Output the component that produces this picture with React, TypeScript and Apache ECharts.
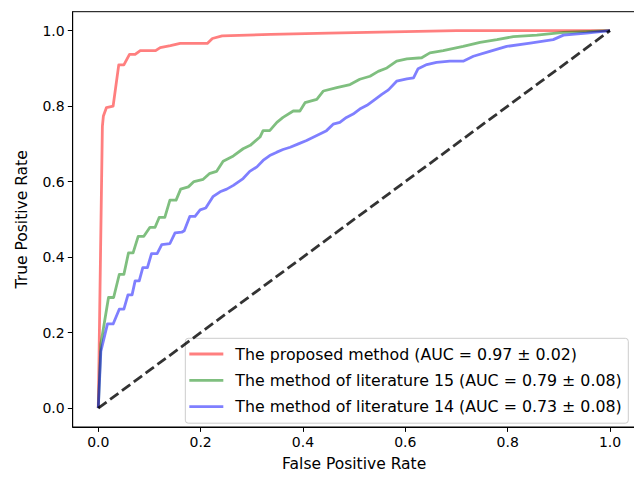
import React, { useEffect, useRef } from "react";
import * as echarts from "echarts";

const tickValues = [0, 0.2, 0.4, 0.6, 0.8, 1.0];

const seriesNames = [
  "The proposed method (AUC = 0.97 ± 0.02)",
  "The method of literature 15 (AUC = 0.79 ± 0.08)",
  "The method of literature 14 (AUC = 0.73 ± 0.08)",
];

const proposedPoints: number[][] = [
  [0, 0], [0.008, 0.746], [0.01, 0.774], [0.016, 0.796], [0.029, 0.8], [0.04, 0.909],
  [0.05, 0.909], [0.061, 0.937], [0.072, 0.937], [0.082, 0.947], [0.112, 0.947],
  [0.121, 0.955], [0.141, 0.96], [0.16, 0.966], [0.213, 0.966], [0.223, 0.979],
  [0.242, 0.986], [0.337, 0.99], [0.45, 0.993], [0.6, 0.997], [0.7, 1], [1, 1],
];

const lit15Points: number[][] = [
  [0, 0], [0.005, 0.17], [0.02, 0.293], [0.03, 0.293], [0.041, 0.354], [0.05, 0.354],
  [0.059, 0.411], [0.068, 0.411], [0.078, 0.455], [0.089, 0.455], [0.101, 0.479],
  [0.111, 0.479], [0.119, 0.505], [0.13, 0.505], [0.14, 0.551], [0.152, 0.551],
  [0.161, 0.58], [0.176, 0.586], [0.187, 0.6], [0.205, 0.606], [0.217, 0.621],
  [0.231, 0.627], [0.244, 0.654], [0.264, 0.668], [0.283, 0.687], [0.297, 0.696],
  [0.316, 0.718], [0.322, 0.735], [0.335, 0.735], [0.349, 0.757], [0.361, 0.77],
  [0.381, 0.787], [0.394, 0.787], [0.404, 0.809], [0.427, 0.818], [0.44, 0.84],
  [0.466, 0.849], [0.492, 0.857], [0.511, 0.871], [0.531, 0.879], [0.547, 0.892],
  [0.564, 0.901], [0.583, 0.919], [0.603, 0.925], [0.632, 0.928], [0.648, 0.941],
  [0.674, 0.947], [0.713, 0.958], [0.746, 0.969], [0.779, 0.976], [0.811, 0.984],
  [0.857, 0.988], [0.909, 0.995], [1, 1],
];

const lit14Points: number[][] = [
  [0, 0], [0.005, 0.15], [0.018, 0.223], [0.029, 0.223], [0.041, 0.262], [0.05, 0.262],
  [0.058, 0.3], [0.066, 0.3], [0.072, 0.337], [0.08, 0.337], [0.087, 0.372],
  [0.096, 0.372], [0.104, 0.409], [0.115, 0.409], [0.124, 0.433], [0.14, 0.436],
  [0.15, 0.464], [0.163, 0.466], [0.168, 0.47], [0.179, 0.508], [0.189, 0.508],
  [0.199, 0.525], [0.21, 0.53], [0.224, 0.56], [0.238, 0.573], [0.251, 0.58],
  [0.264, 0.59], [0.283, 0.608], [0.296, 0.627], [0.31, 0.639], [0.322, 0.656],
  [0.335, 0.669], [0.349, 0.678], [0.361, 0.685], [0.375, 0.691], [0.391, 0.7],
  [0.407, 0.709], [0.427, 0.722], [0.446, 0.735], [0.459, 0.752], [0.472, 0.757],
  [0.485, 0.77], [0.498, 0.779], [0.511, 0.792], [0.525, 0.802], [0.541, 0.818],
  [0.554, 0.831], [0.567, 0.843], [0.583, 0.866], [0.603, 0.872], [0.616, 0.875],
  [0.625, 0.899], [0.642, 0.91], [0.661, 0.916], [0.687, 0.919], [0.713, 0.919],
  [0.733, 0.932], [0.765, 0.945], [0.798, 0.958], [0.844, 0.967], [0.889, 0.976],
  [0.909, 0.988], [0.954, 0.993], [1, 1],
];

const chancePoints: number[][] = [[0, 0], [1, 1]];

const FONT = "DejaVu Sans";

export default function App() {
  const ref = useRef<HTMLDivElement>(null);
  useEffect(() => {
    if (!ref.current) return;
    const chart = echarts.init(ref.current, undefined, { renderer: "svg" });
    const colors = ["rgba(255,0,0,0.5)", "rgba(0,128,0,0.5)", "rgba(0,0,255,0.5)"];
    const datasets = [proposedPoints, lit15Points, lit14Points];
    const axisCommon = {
      type: "value" as const,
      min: -0.05,
      max: 1.05,
      splitLine: { show: false },
      axisLine: { show: true, onZero: false, lineStyle: { color: "#000", width: 1 } },
      axisTick: {
        show: true,
        customValues: tickValues,
        length: 4.9,
        lineStyle: { color: "#000", width: 1 },
      },
      axisLabel: {
        customValues: tickValues,
        formatter: (v: number) => v.toFixed(1),
        fontSize: 14,
        fontFamily: FONT,
        color: "#000",
        margin: 8,
      },
      nameLocation: "middle" as const,
      nameTextStyle: { fontSize: 15.5, fontFamily: FONT, color: "#000" },
    };
    chart.setOption({
      animation: false,
      backgroundColor: "#fff",
      grid: {
        left: 72.7,
        top: 11.7,
        width: 562.9,
        height: 420,
        show: true,
        borderColor: "#000",
        borderWidth: 1,
        backgroundColor: "transparent",
      },
      xAxis: { ...axisCommon, name: "False Positive Rate", nameGap: 29 },
      yAxis: { ...axisCommon, name: "True Positive Rate", nameGap: 43 },
      legend: {
        data: seriesNames,
        orient: "vertical",
        right: 11.7,
        top: 338.3,
        icon: "rect",
        itemWidth: 34,
        itemHeight: 2.8,
        itemGap: 8.3,
        padding: [6.7, 6.6, 7.6, 4],
        backgroundColor: "rgba(255,255,255,0.8)",
        borderColor: "#cccccc",
        borderWidth: 1,
        borderRadius: 3,
        textStyle: {
          fontSize: 15.8,
          fontFamily: FONT,
          color: "#000",
          lineHeight: 18,
          padding: [0, 0, 0, 7],
        },
      },
      series: [
        ...datasets.map((d, i) => ({
          name: seriesNames[i],
          type: "line",
          data: d,
          showSymbol: false,
          symbol: "none",
          itemStyle: { color: colors[i] },
          lineStyle: { color: colors[i], width: 2.8, join: "round" },
          z: 2 + i,
        })),
        {
          name: "chance",
          type: "line",
          data: chancePoints,
          showSymbol: false,
          symbol: "none",
          lineStyle: { color: "rgba(0,0,0,0.8)", width: 2.8, type: [10.3, 4.4] },
          z: 6,
        },
      ],
    });
    return () => chart.dispose();
  }, []);
  return (
    <div style={{ position: "fixed", left: 0, top: 0, width: 634, height: 477, overflow: "hidden", background: "#fff" }}>
      <div ref={ref} style={{ width: 640, height: 477 }} />
    </div>
  );
}
